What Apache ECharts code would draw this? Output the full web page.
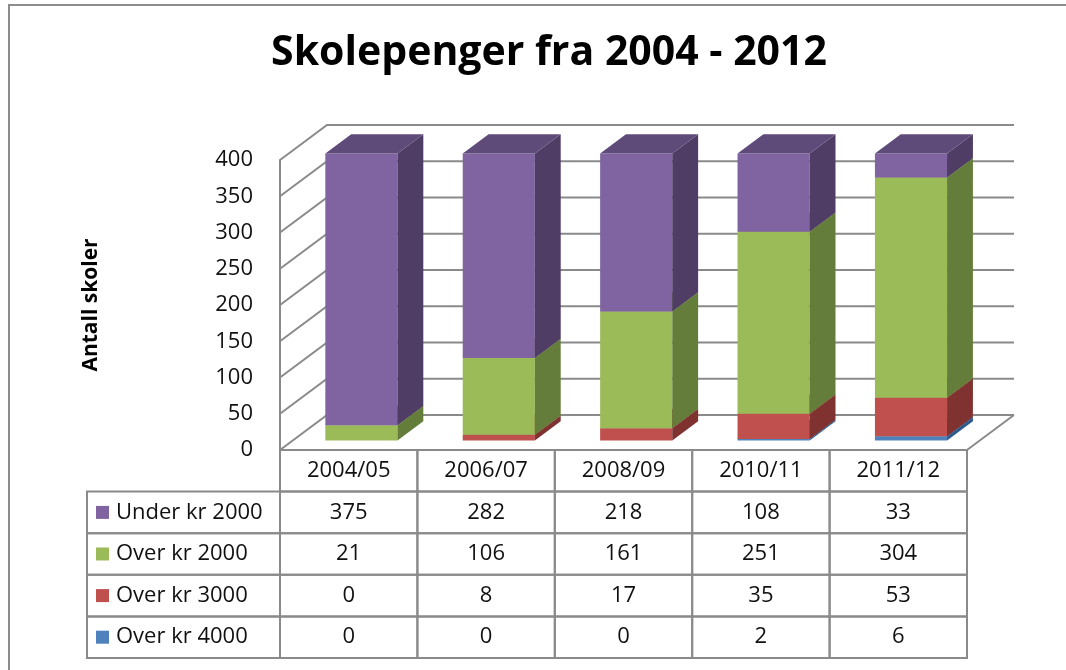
<!DOCTYPE html>
<html>
<head>
    <meta charset="utf-8">
    <title>Skolepenger fra 2004 - 2012</title>
    <script src="https://cdn.jsdelivr.net/npm/echarts@6/dist/echarts.min.js"></script>
    <style>
        html, body { margin: 0; padding: 0; background: #fff; }
    </style>
</head>
<body>
<div id="main" style="width: 1066px;height:670px;"></div>
<script type="text/javascript">
    const categories = ['2004/05', '2006/07', '2008/09', '2010/11', '2011/12'];
    const seriesNames = ['Under kr 2000', 'Over kr 2000', 'Over kr 3000', 'Over kr 4000'];
    const under2000 = [375, 282, 218, 108, 33];
    const over2000 = [21, 106, 161, 251, 304];
    const over3000 = [0, 8, 17, 35, 53];
    const over4000 = [0, 0, 0, 2, 6];
    const yTicks = [0, 50, 100, 150, 200, 250, 300, 350, 400];

    // 3d look: depth of the floor and where the bars sit inside it
    const DX = 47, DY = -35;
    const F0 = 0.27, F1 = 0.82;
    const BAR_W = 0.525;
    const ROW_H = 41.6;
    const LINE = '#8a8a8a';
    const FONT = 'Open Sans';

    const colors = {
        'Under kr 2000': {front: '#8064A2', side: '#4F3D66', top: '#5F4B7A'},
        'Over kr 2000': {front: '#9BBB59', side: '#657D3A', top: '#7A9446'},
        'Over kr 3000': {front: '#C0504D', side: '#7F3230', top: '#9A3F3D'},
        'Over kr 4000': {front: '#4F81BD', side: '#2F5A8C', top: '#3E6A9E'}
    };

    const valuesByName = {
        'Under kr 2000': under2000,
        'Over kr 2000': over2000,
        'Over kr 3000': over3000,
        'Over kr 4000': over4000
    };

    // stack from bottom to top
    const stackOrder = ['Over kr 4000', 'Over kr 3000', 'Over kr 2000', 'Under kr 2000'];

    const myChart = echarts.init(document.getElementById('main'));

    function barItem(params, api) {
        const c = api.value(0), lo = api.value(1), hi = api.value(2);
        if (hi <= lo) return;
        const col = colors[params.seriesName];
        const band = api.size([1, 0])[0];
        const p0 = api.coord([c, lo]);
        const p1 = api.coord([c, hi]);
        const w = band * BAR_W;
        const x0 = p0[0] - w / 2 + DX * F0;
        const x1 = x0 + w;
        const yb = p0[1] + DY * F0;
        const yt = p1[1] + DY * F0;
        const ddx = DX * (F1 - F0), ddy = DY * (F1 - F0);
        return {
            type: 'group',
            children: [
                {type: 'rect', shape: {x: x0, y: yt, width: w, height: yb - yt}, style: {fill: col.front}},
                {type: 'polygon', shape: {points: [[x1, yt], [x1 + ddx, yt + ddy], [x1 + ddx, yb + ddy], [x1, yb]]}, style: {fill: col.side}},
                {type: 'polygon', shape: {points: [[x0, yt], [x1, yt], [x1 + ddx, yt + ddy], [x0 + ddx, yt + ddy]]}, style: {fill: col.top}}
            ]
        };
    }

    function wallItem(params, api) {
        const v = api.value(1);
        const band = api.size([1, 0])[0];
        const left = api.coord([0, v])[0] - band / 2;
        const right = api.coord([categories.length - 1, v])[0] + band / 2;
        const y = api.coord([0, v])[1];
        const children = [{
            type: 'polyline',
            shape: {points: [[left, y], [left + DX, y + DY], [right + DX, y + DY]]},
            style: {stroke: LINE, lineWidth: 2, fill: null}
        }];
        if (v === 0) {
            children.push({
                type: 'line',
                shape: {x1: right, y1: y, x2: right + DX, y2: y + DY},
                style: {stroke: LINE, lineWidth: 2}
            });
        }
        return {type: 'group', children: children};
    }

    function tableItem(params, api) {
        const c = api.value(0);
        const band = api.size([1, 0])[0];
        const base = api.coord([c, 0]);
        const xl = base[0] - band / 2;
        const y0 = base[1];
        const children = [];
        const texts = [categories[c]];
        for (let k = 0; k < seriesNames.length; k++) texts.push(String(api.value(k + 1)));
        for (let r = 0; r < texts.length; r++) {
            children.push({
                type: 'rect',
                shape: {x: xl, y: y0 + r * ROW_H, width: band, height: ROW_H},
                style: {fill: null, stroke: LINE, lineWidth: 2}
            });
            children.push({
                type: 'text',
                style: {
                    text: texts[r], x: base[0], y: y0 + (r + 0.5) * ROW_H,
                    align: 'center', verticalAlign: 'middle',
                    fontFamily: FONT, fontSize: 22, fill: '#111'
                }
            });
        }
        if (c === 0) {
            const lw = 193;
            for (let k = 0; k < seriesNames.length; k++) {
                const yy = y0 + (k + 1) * ROW_H;
                children.push({
                    type: 'rect',
                    shape: {x: xl - lw, y: yy, width: lw, height: ROW_H},
                    style: {fill: null, stroke: LINE, lineWidth: 2}
                });
                children.push({
                    type: 'rect',
                    shape: {x: xl - lw + 9, y: yy + ROW_H / 2 - 6.5, width: 13, height: 13},
                    style: {fill: colors[seriesNames[k]].front}
                });
                children.push({
                    type: 'text',
                    style: {
                        text: seriesNames[k], x: xl - lw + 29, y: yy + ROW_H / 2,
                        align: 'left', verticalAlign: 'middle',
                        fontFamily: FONT, fontSize: 22, fill: '#111'
                    }
                });
            }
        }
        return {type: 'group', children: children};
    }

    const series = [];
    series.push({
        type: 'custom',
        name: 'wall',
        z: 1,
        silent: true,
        renderItem: wallItem,
        data: yTicks.map(v => [0, v]),
        encode: {x: 0, y: 1}
    });

    const cum = categories.map(() => 0);
    stackOrder.forEach((name, k) => {
        const vals = valuesByName[name];
        const data = categories.map((cat, i) => {
            const lo = cum[i];
            cum[i] += vals[i];
            return [i, lo, cum[i]];
        });
        series.push({
            type: 'custom',
            name: name,
            z: 3 + k,
            renderItem: barItem,
            data: data,
            encode: {x: 0, y: [1, 2]}
        });
    });

    series.push({
        type: 'custom',
        name: 'table',
        z: 10,
        silent: true,
        renderItem: tableItem,
        data: categories.map((cat, i) => [i, under2000[i], over2000[i], over3000[i], over4000[i]]),
        encode: {x: 0, y: 1}
    });

    const option = {
        animation: false,
        title: {
            text: 'Skolepenger fra 2004 - 2012',
            left: 544,
            textAlign: 'center',
            top: 28,
            textStyle: {fontFamily: FONT, fontSize: 41, fontWeight: 'bold', color: '#000'}
        },
        graphic: [{
            type: 'polyline',
            shape: {points: [[9, 670], [9, 5], [1066, 5]]},
            style: {stroke: '#8c8c8c', lineWidth: 2, fill: null}
        }],
        grid: {left: 280, right: 99, top: 160, bottom: 220},
        xAxis: {
            type: 'category',
            data: categories,
            axisLine: {show: false},
            axisTick: {show: false},
            axisLabel: {show: false},
            splitLine: {show: false}
        },
        yAxis: {
            type: 'value',
            min: 0,
            max: 400,
            interval: 50,
            name: 'Antall skoler',
            nameLocation: 'middle',
            nameRotate: 90,
            nameGap: 178,
            nameTextStyle: {fontFamily: FONT, fontSize: 21, fontWeight: 'bold', color: '#000'},
            axisLine: {show: true, lineStyle: {color: LINE, width: 2}},
            axisTick: {show: false},
            axisLabel: {fontFamily: FONT, fontSize: 22, color: '#111', margin: 27},
            splitLine: {show: false}
        },
        series: series
    };
    myChart.setOption(option);
</script>
</body>
</html>
